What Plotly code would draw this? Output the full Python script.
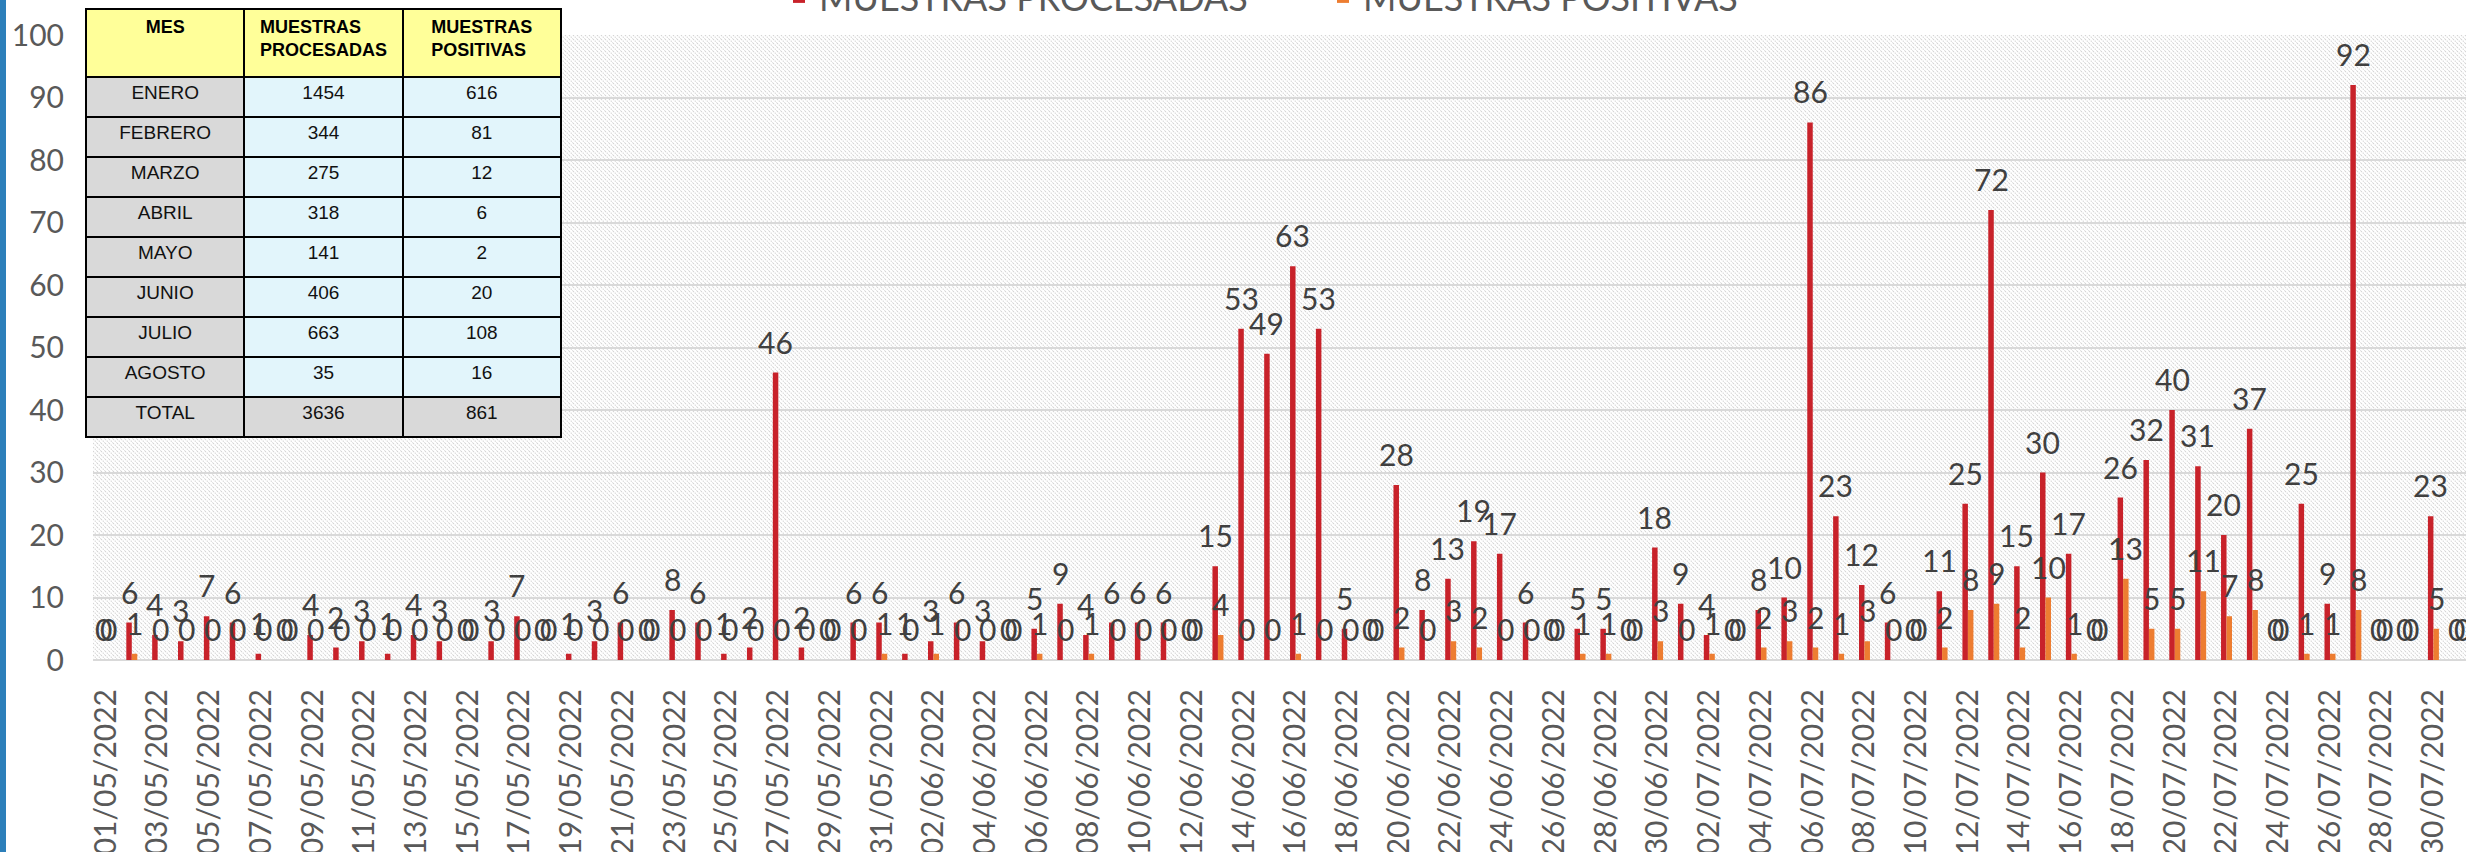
import base64
import pandas as pd
import plotly.graph_objects as go

# ---------------- data ----------------
dates = pd.date_range("2022-05-01", "2022-07-31").strftime("%d/%m/%Y").tolist()

procesadas = [
    # May
    0, 6, 4, 3, 7, 6, 1, 0, 4, 2, 3, 1, 4, 3, 0, 3, 7, 0, 1, 3, 6, 0, 8, 6, 1, 2, 46, 2, 0, 6, 6,
    # June
    1, 3, 6, 3, 0, 5, 9, 4, 6, 6, 6, 0, 15, 53, 49, 63, 53, 5, 0, 28, 8, 13, 19, 17, 6, 0, 5, 5, 0, 18,
    # July
    9, 4, 0, 8, 10, 86, 23, 12, 6, 0, 11, 25, 72, 15, 30, 17, 0, 26, 32, 40, 31, 20, 37, 0, 25, 9, 92, 0, 0, 23, 0,
]
positivas = [
    # May
    0, 1, 0, 0, 0, 0, 0, 0, 0, 0, 0, 0, 0, 0, 0, 0, 0, 0, 0, 0, 0, 0, 0, 0, 0, 0, 0, 0, 0, 0, 1,
    # June
    0, 1, 0, 0, 0, 1, 0, 1, 0, 0, 0, 0, 4, 0, 0, 1, 0, 0, 0, 2, 0, 3, 2, 0, 0, 0, 1, 1, 0, 3,
    # July
    0, 1, 0, 2, 3, 2, 1, 3, 0, 0, 2, 8, 9, 2, 10, 1, 0, 13, 5, 5, 11, 7, 8, 0, 1, 1, 8, 0, 0, 5, 0,
]
tick_labels = dates[::2]
y_ticks = list(range(0, 101, 10))

series_names = ["MUESTRAS PROCESADAS", "MUESTRAS POSITIVAS"]

tabla_mes = ["ENERO", "FEBRERO", "MARZO", "ABRIL", "MAYO", "JUNIO", "JULIO", "AGOSTO", "TOTAL"]
tabla_procesadas = [1454, 344, 275, 318, 141, 406, 663, 35, 3636]
tabla_positivas = [616, 81, 12, 6, 2, 20, 108, 16, 861]
tabla_header = ["<b>MES</b>", "<b>MUESTRAS<br>PROCESADAS</b>", "<b>MUESTRAS<br>POSITIVAS</b>"]

# ---------------- geometry / style ----------------
W, H = 2466, 852
ML, MR, MT, MB = 80, 0, 8, 192
PW = W - ML - MR
PH = H - MT - MB


def px_x(px):
    return (px - ML) / PW


def px_y(py):
    return (H - MB - py) / PH


PLOT_L, PLOT_T = 93, 35
RED = "#c8222a"
ORANGE = "#ed7d31"
GRID = "#d9d9d9"
FONT = "Lato, 'Open Sans', sans-serif"
TABLE_FONT = "'Liberation Sans Narrow', 'Arial Narrow', 'Liberation Sans', Arial, sans-serif"

n_cat = len(dates)
cat_px = (W - MR - PLOT_L) / (n_cat - 1 + 0.5 + 0.26)
bargap = 0.575
bar_off = (1 - bargap) / 4 * cat_px

# hatch background as an svg image
hw, hh = W - MR - PLOT_L, H - MB - PLOT_T
hatch_svg = (
    f'<svg xmlns="http://www.w3.org/2000/svg" width="{hw}" height="{hh}">'
    '<defs><pattern id="h" width="4" height="4" patternUnits="userSpaceOnUse">'
    '<path d="M0,0 L4,4 M-1,3 L1,5 M3,-1 L5,1" stroke="#d4d4d4" stroke-width="1.1" stroke-dasharray="1.4,1"/>'
    '</pattern></defs><rect width="100%" height="100%" fill="url(#h)"/></svg>'
)
hatch_uri = "data:image/svg+xml;base64," + base64.b64encode(hatch_svg.encode()).decode()

fig = go.Figure()
fig.add_trace(go.Bar(name=series_names[0], x=dates, y=procesadas, marker=dict(color=RED, line=dict(width=0))))
fig.add_trace(go.Bar(name=series_names[1], x=dates, y=positivas, marker=dict(color=ORANGE, line=dict(width=0))))

# table
n_rows = len(tabla_mes)
col_first = ["#d9d9d9"] * n_rows
col_data = ["#e2f5fb"] * (n_rows - 1) + ["#d9d9d9"]
fig.add_trace(go.Table(
    domain=dict(x=[px_x(86), px_x(561)], y=[px_y(438), px_y(9)]),
    columnwidth=[1, 1, 1],
    header=dict(values=tabla_header, fill_color="#ffff99", line=dict(color="black", width=2),
                align="center", height=68, font=dict(family=TABLE_FONT, size=18, color="black")),
    cells=dict(values=[tabla_mes, tabla_procesadas, tabla_positivas],
               fill_color=[col_first, col_data, col_data], line=dict(color="black", width=2),
               align="center", height=40, font=dict(family=TABLE_FONT, size=19, color="#111111")),
))

# data labels
annotations = []
label_font = dict(family=FONT, size=30, color="#404040")
for d, p, q in zip(dates, procesadas, positivas):
    annotations.append(dict(x=d, y=p, xref="x", yref="y", text=str(p), showarrow=False,
                            xanchor="center", yanchor="bottom", xshift=-bar_off, yshift=11, font=label_font))
    annotations.append(dict(x=d, y=q, xref="x", yref="y", text=str(q), showarrow=False,
                            xanchor="center", yanchor="bottom", xshift=bar_off, yshift=11, font=label_font))

fig.update_layout(
    width=W, height=H,
    margin=dict(l=ML, r=MR, t=MT, b=MB, autoexpand=False),
    paper_bgcolor="white", plot_bgcolor="white",
    barmode="group", bargap=bargap, bargroupgap=0,
    showlegend=True,
    legend=dict(orientation="h", x=px_x(779), xanchor="left", y=px_y(-3), yanchor="middle",
                entrywidth=499, entrywidthmode="pixels", bgcolor="rgba(0,0,0,0)",
                font=dict(family=FONT, size=36, color="#595959")),
    xaxis=dict(domain=[px_x(PLOT_L), 1], type="category", range=[-0.5, n_cat - 1 + 0.26],
               tickmode="array", tickvals=tick_labels, ticktext=tick_labels, tickangle=-90,
               ticks="", ticklabelstandoff=22, showgrid=False, showline=False, zeroline=False,
               tickfont=dict(family=FONT, size=30, color="#595959")),
    yaxis=dict(domain=[0, px_y(PLOT_T)], range=[0, 100], tickvals=y_ticks, showgrid=True,
               gridcolor=GRID, gridwidth=2, zeroline=True, zerolinecolor=GRID, zerolinewidth=2,
               showline=False, ticks="", ticklabelstandoff=28,
               tickfont=dict(family=FONT, size=30, color="#595959")),
    images=[dict(source=hatch_uri, xref="paper", yref="paper", x=px_x(PLOT_L), y=px_y(PLOT_T),
                 sizex=hw / PW, sizey=hh / PH, xanchor="left", yanchor="top", sizing="stretch",
                 layer="below")],
    shapes=[dict(type="rect", xref="paper", yref="paper", x0=px_x(0), x1=px_x(6), y0=px_y(H), y1=px_y(0),
                 fillcolor="#2c7fba", line=dict(width=0), layer="above")],
    annotations=annotations,
)

fig.write_html(
    "out.html",
    config={"displayModeBar": False},
    post_script="document.body.style.margin='0';document.body.style.overflow='hidden';",
)
